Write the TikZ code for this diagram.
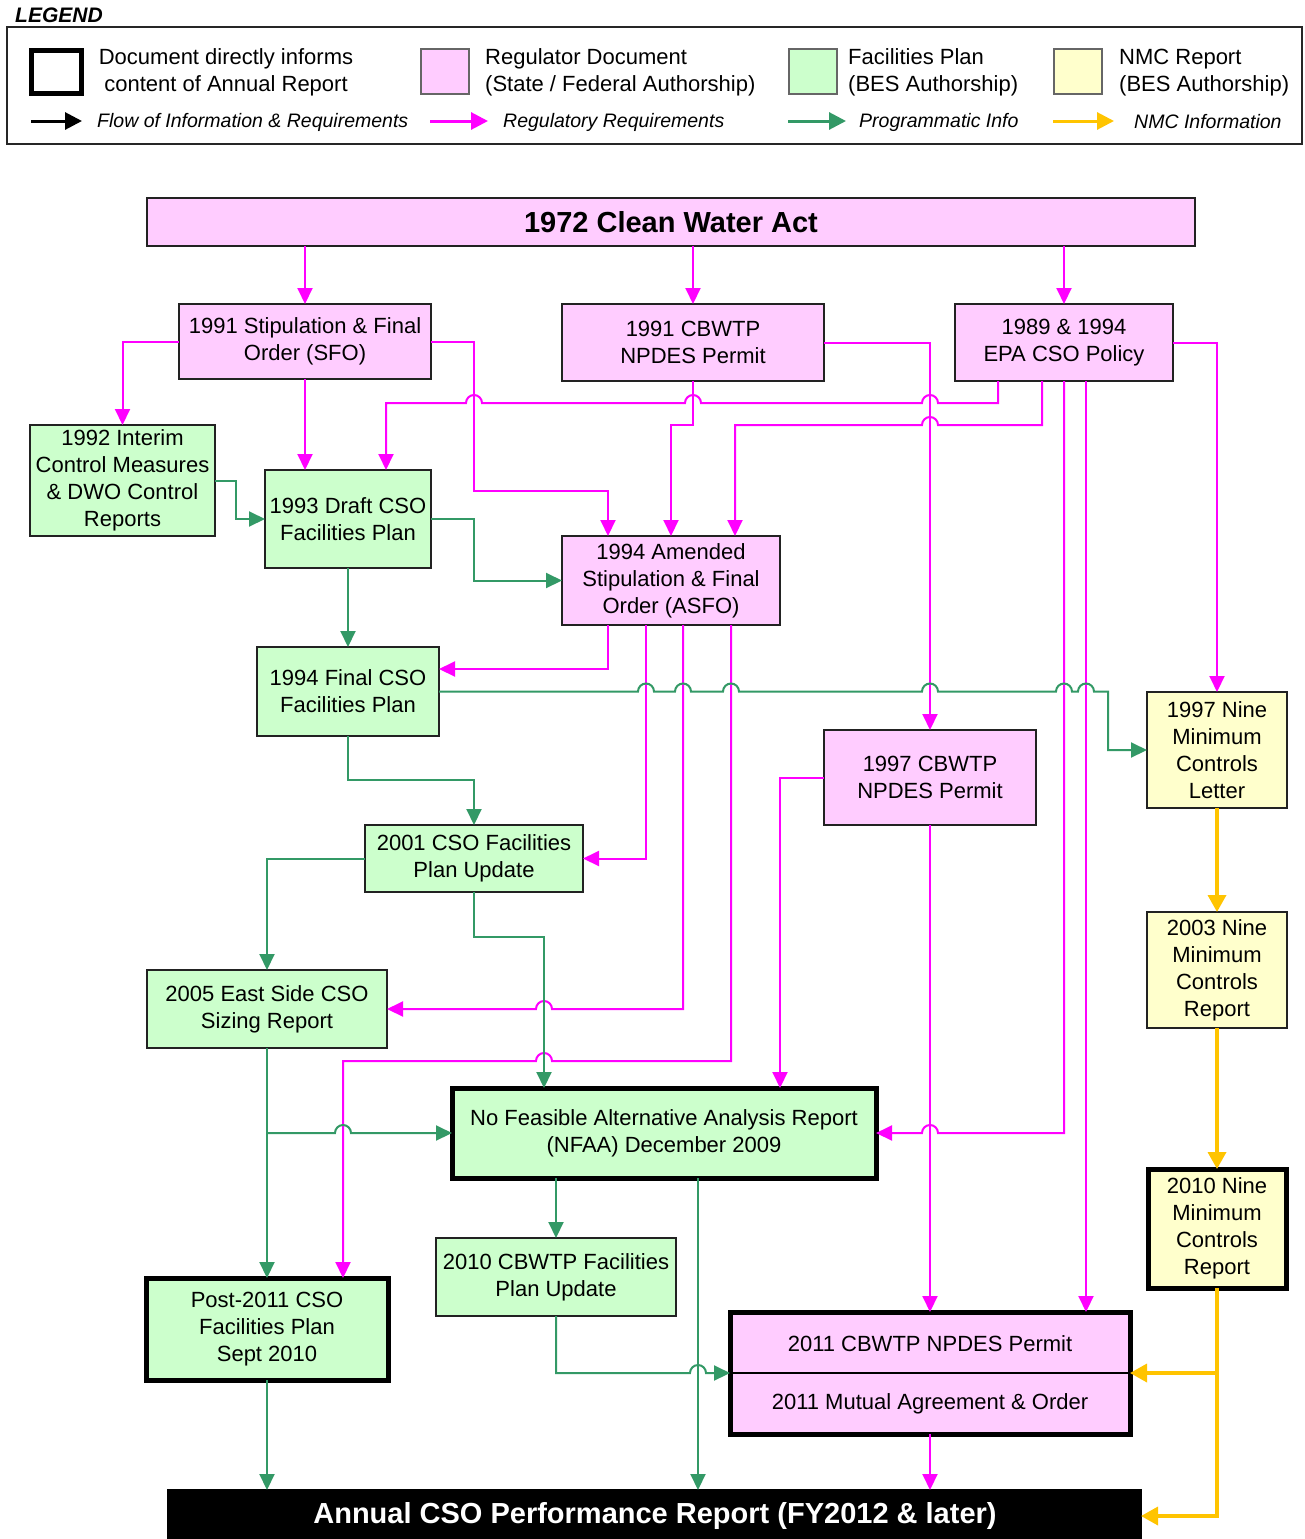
\documentclass[tikz,border=0pt]{standalone}
\usepackage{fontspec}
\setmainfont{Liberation Sans}
\usetikzlibrary{arrows.meta}
\definecolor{pinkf}{HTML}{FFCCFF}
\definecolor{greenf}{HTML}{CCFFCC}
\definecolor{yellowf}{HTML}{FFFFCC}
\definecolor{mag}{HTML}{FF00FF}
\definecolor{grn}{HTML}{339966}
\definecolor{ylw}{HTML}{FFC400}
\definecolor{edge}{HTML}{222222}
\newcommand\bx[7]{\node[#6, minimum width={(#4-#2)*1pt}, minimum height={(#5-#3)*1pt}] (#1) at ({(#2+#4)/2},{(#3+#5)/2}) {#7};}
\newcommand\hopL[2]{-- ({#1+8},#2) arc[start angle=0,end angle=-180,radius=8]}
\newcommand\hopR[2]{-- ({#1-8},#2) arc[start angle=180,end angle=360,radius=8]}
\tikzset{
 box/.style={draw=edge, line width=1.3pt, inner sep=0pt, outer sep=0pt, align=center, font=\fontsize{22}{27}\selectfont},
 tbox/.style={box, line width=5pt, draw=black},
 pk/.style={draw=mag, line width=2pt, -{Triangle[length=16pt,width=15pt]}},
 gn/.style={draw=grn, line width=2pt, -{Triangle[length=16pt,width=15pt]}},
 yw/.style={draw=ylw, line width=3.5pt, -{Triangle[length=17pt,width=18pt]}},
 lgtext/.style={font=\fontsize{22}{27}\selectfont, align=left, inner sep=0pt},
 lgital/.style={font=\fontsize{19.5}{23}\selectfont\itshape, inner sep=0pt, anchor=west},
}
\begin{document}
\begin{tikzpicture}[x=1pt,y=-1pt]
\fill[white] (0,0) rectangle (1304,1539);
\useasboundingbox (0,0) rectangle (1304,1539);
% ---------- legend ----------
\node[anchor=west, inner sep=0pt, font=\fontsize{21}{24}\selectfont\bfseries\itshape] (lgtitle) at (15,15) {LEGEND};
\bx{legend}{7}{27}{1302}{144}{draw=black!85, line width=2pt, inner sep=0pt, outer sep=0pt}{}
\bx{lgthick}{31}{50}{81}{93}{tbox}{}
\bx{lgpink}{421}{49}{469}{94}{box,fill=pinkf,draw=black!60}{}
\bx{lggreen}{789}{49}{837}{94}{box,fill=greenf,draw=black!60}{}
\bx{lgyellow}{1054}{49}{1102}{94}{box,fill=yellowf,draw=black!60}{}
\node[lgtext, align=center] (lgt1) at (226,72.5) {Document directly informs\\content of Annual Report};
\node[lgtext, anchor=west] (lgt2) at (485,72.5) {Regulator Document\\(State / Federal Authorship)};
\node[lgtext, anchor=west] (lgt3) at (848,72.5) {Facilities Plan\\(BES Authorship)};
\node[lgtext, anchor=west] (lgt4) at (1119,72.5) {NMC Report\\(BES Authorship)};
\coordinate (la1) at (31,121); \coordinate (la2) at (82,121);
\coordinate (lb1) at (430,121); \coordinate (lb2) at (488,121);
\coordinate (lc1) at (788,121); \coordinate (lc2) at (846,121);
\coordinate (ld1) at (1053,121); \coordinate (ld2) at (1114,121);
\draw[line width=3pt, -{Triangle[length=17pt,width=17pt]}] (la1) -- (la2);
\draw[mag, line width=3pt, -{Triangle[length=17pt,width=17pt]}] (lb1) -- (lb2);
\draw[grn, line width=3pt, -{Triangle[length=17pt,width=17pt]}] (lc1) -- (lc2);
\draw[ylw, line width=3pt, -{Triangle[length=17pt,width=17pt]}] (ld1) -- (ld2);
\node[lgital] (lgi1) at (97,122.5) {Flow of Information \& Requirements};
\node[lgital] (lgi2) at (503,122.5) {Regulatory Requirements};
\node[lgital] (lgi3) at (859,122.5) {Programmatic Info};
\node[lgital] (lgi4) at (1134,121.5) {NMC Information};
% ---------- boxes ----------
\bx{cwa}{147}{198}{1195}{246}{box, fill=pinkf, font=\fontsize{29}{34}\selectfont\bfseries}{1972 Clean Water Act}
\bx{sfo}{179}{304}{431}{379}{box,fill=pinkf}{1991 Stipulation \& Final\\Order (SFO)}
\bx{cb91}{562}{304}{824}{381}{box,fill=pinkf}{1991 CBWTP\\NPDES Permit}
\bx{epa}{955}{304}{1173}{381}{box,fill=pinkf}{1989 \& 1994\\EPA CSO Policy}
\bx{icm}{30}{425}{215}{536}{box,fill=greenf}{1992 Interim\\Control Measures\\\& DWO Control\\Reports}
\bx{draft}{265}{470}{431}{568}{box,fill=greenf}{1993 Draft CSO\\Facilities Plan}
\bx{asfo}{562}{536}{780}{625}{box,fill=pinkf}{1994 Amended\\Stipulation \& Final\\Order (ASFO)}
\bx{final}{257}{647}{439}{736}{box,fill=greenf}{1994 Final CSO\\Facilities Plan}
\bx{nmc97}{1147}{692}{1287}{808}{box,fill=yellowf}{1997 Nine\\Minimum\\Controls\\Letter}
\bx{cb97}{824}{730}{1036}{825}{box,fill=pinkf}{1997 CBWTP\\NPDES Permit}
\bx{upd01}{365}{825}{583}{892}{box,fill=greenf}{2001 CSO Facilities\\Plan Update}
\bx{nmc03}{1147}{912}{1287}{1028}{box,fill=yellowf}{2003 Nine\\Minimum\\Controls\\Report}
\bx{es05}{147}{970}{387}{1048}{box,fill=greenf}{2005 East Side CSO\\Sizing Report}
\bx{nfaa}{452}{1088}{876}{1178}{tbox,fill=greenf}{No Feasible Alternative Analysis Report\\(NFAA) December 2009}
\bx{nmc10}{1148}{1169}{1286}{1288}{tbox,fill=yellowf}{2010 Nine\\Minimum\\Controls\\Report}
\bx{cb10}{436}{1238}{676}{1316}{box,fill=greenf}{2010 CBWTP Facilities\\Plan Update}
\bx{post}{146}{1278}{388}{1380}{tbox,fill=greenf}{Post-2011 CSO\\Facilities Plan\\Sept 2010}
\bx{permit}{730}{1312}{1130}{1434}{tbox,fill=pinkf}{}
\draw[line width=1.2pt] (permit.west) -- (permit.east);
\node[box, draw=none] (permitA) at (930,1344) {2011 CBWTP NPDES Permit};
\node[box, draw=none] (permitB) at (930,1404) {2011 Mutual Agreement \& Order};
\bx{annual}{168}{1490}{1141}{1539}{box,draw=black,fill=black,text=white,font=\fontsize{29}{34}\selectfont\bfseries}{}
\node[box, draw=none, text=white, font=\fontsize{29}{34}\selectfont\bfseries] (annualtext) at (655,1516) {Annual CSO Performance Report (FY2012 \& later)};
% ---------- pink connectors ----------
\draw[pk] (cwa.south -| sfo.north) -- (sfo.north);
\draw[pk] (cwa.south -| cb91.north) -- (cb91.north);
\draw[pk] (cwa.south -| epa.north) -- (epa.north);
\draw[pk] (sfo.west) -| (icm.north);
\draw[pk] (sfo.south) -- (draft.north -| sfo.south);
\draw[pk] (sfo.east) -| (474,491) -| (asfo.north -| 608,0);
\draw[pk] (epa.south -| 998,0) -- (998,403) \hopL{930}{403} \hopL{693}{403} \hopL{474}{403} -| (draft.north -| 386,0);
\draw[pk] (cb91.south) -- (cb91.south |- 0,425) -| (asfo.north -| 671,0);
\draw[pk] (epa.south -| 1042,0) -- (1042,425) \hopL{930}{425} -| (asfo.north -| 735,0);
\draw[pk] (cb91.east) -| (cb97.north);
\draw[pk] (epa.east) -| (nmc97.north);
\draw[pk] (epa.south) -- (epa.south |- 0,1133) \hopL{930}{1133} -- (nfaa.east);
\draw[pk] (epa.south -| 1086,0) -- (permit.north -| 1086,0);
\draw[pk] (asfo.south -| 608,0) |- (final.east |- 0,669);
\draw[pk] (asfo.south -| 646,0) |- (upd01.east);
\draw[pk] (asfo.south -| 683,0) -- (683,1009) \hopL{544}{1009} -- (es05.east);
\draw[pk] (asfo.south -| 731,0) -- (731,1061) \hopL{544}{1061} -| (post.north -| 343,0);
\draw[pk] (cb97.west) -| (nfaa.north -| 780,0);
\draw[pk] (cb97.south) -- (permit.north -| cb97.south);
\draw[pk] (permit.south) -- (annual.north -| permit.south);
% ---------- green connectors ----------
\draw[gn] (icm.east |- 0,481) -- (236,481) |- (draft.west);
\draw[gn] (draft.east) -- (draft.east -| 474,0) |- (asfo.west);
\draw[gn] (draft.south) -- (final.north);
\draw[gn] (final.east) \hopR{646}{691.5} \hopR{683}{691.5} \hopR{731}{691.5} \hopR{930}{691.5} \hopR{1064}{691.5} \hopR{1086}{691.5} -- (1108,691.5) |- (nmc97.west);
\draw[gn] (final.south) -- (final.south |- 0,780) -| (upd01.north);
\draw[gn] (upd01.west) -| (es05.north);
\draw[gn] (upd01.south) -- (upd01.south |- 0,937) -| (nfaa.north -| 544,0);
\draw[gn] (es05.south) -- (post.north);
\draw[gn] (es05.south |- 0,1133) \hopR{343}{1133} -- (nfaa.west);
\draw[gn] (nfaa.south -| 556,0) -- (cb10.north);
\draw[gn] (nfaa.south -| 698,0) -- (annual.north -| 698,0);
\draw[gn] (cb10.south) -- (cb10.south |- 0,1373) \hopR{698}{1373} -- (permit.west);
\draw[gn] (post.south) -- (annual.north -| post.south);
% ---------- yellow connectors ----------
\draw[yw] (nmc97.south) -- (nmc03.north);
\draw[yw] (nmc03.south) -- (nmc10.north);
\draw[yw] (nmc10.south) |- (permit.east);
\draw[yw] (nmc10.south) |- (annual.east |- annualtext.center);
\end{tikzpicture}
\end{document}
